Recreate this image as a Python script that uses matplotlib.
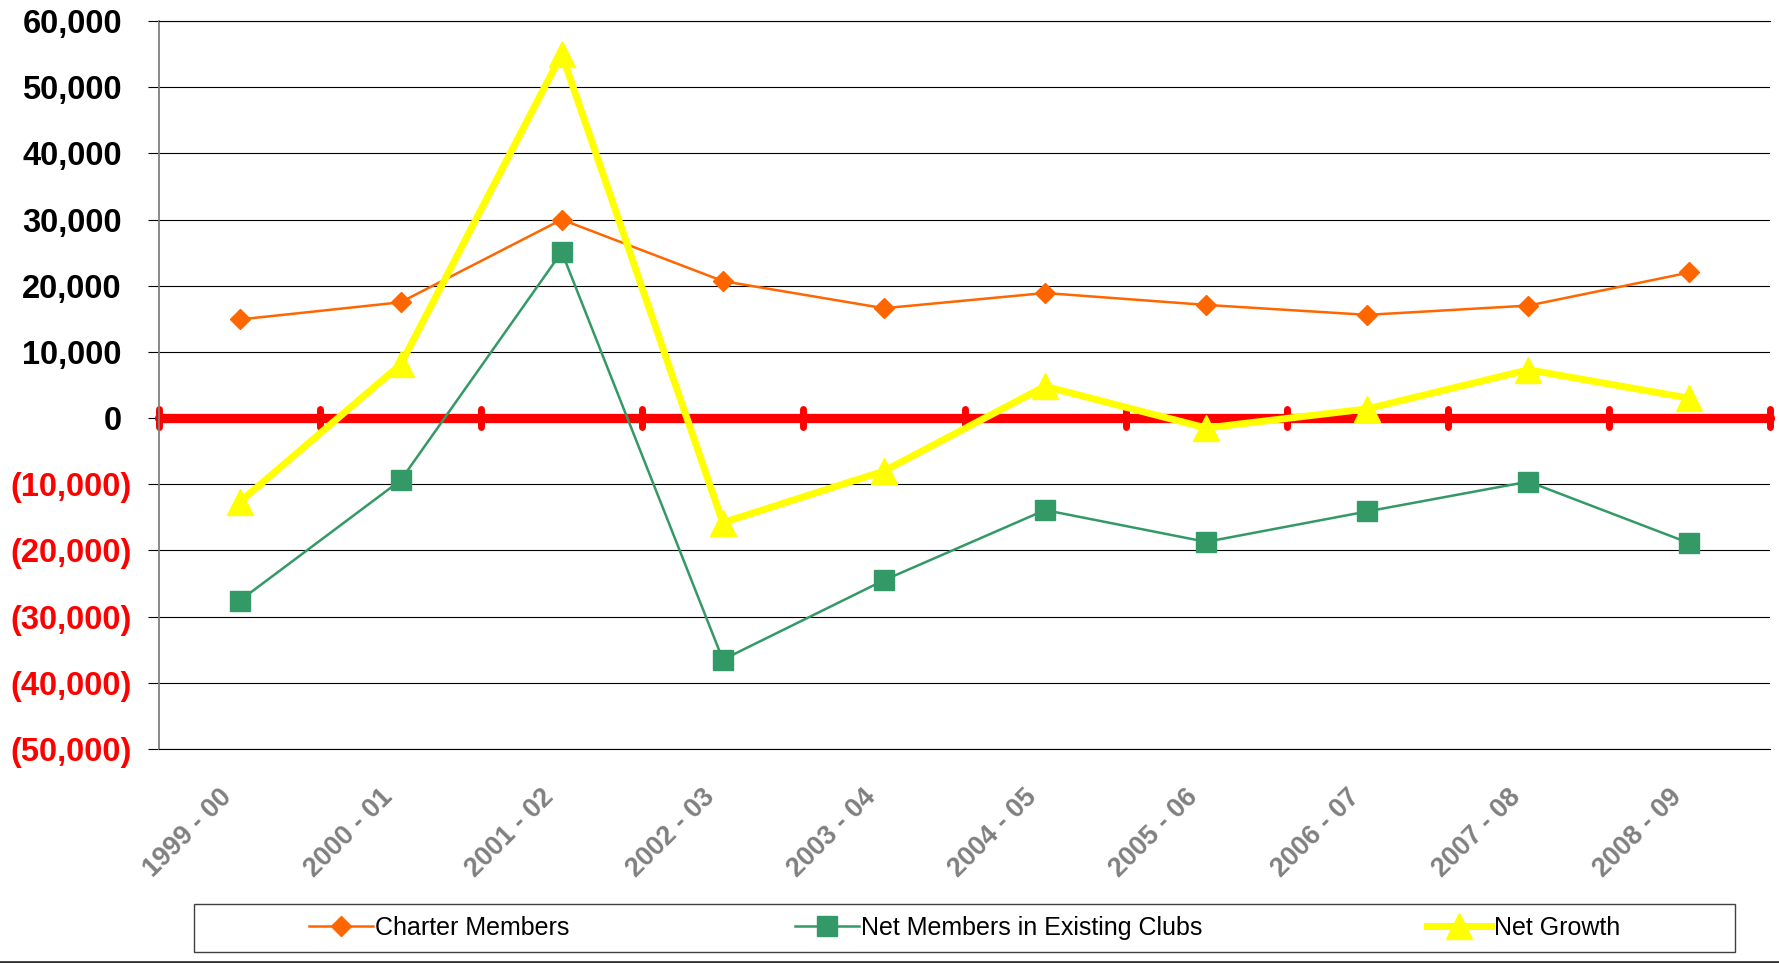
import numpy as np
import matplotlib
matplotlib.use('Agg')
import matplotlib.pyplot as plt
from matplotlib.transforms import ScaledTranslation
from matplotlib.patches import Rectangle
from matplotlib.lines import Line2D
from matplotlib.ticker import FuncFormatter

plt.rcParams['font.family'] = ['Liberation Sans', 'DejaVu Sans']

# ---------------- data ----------------
seasons = ['1999 - 00', '2000 - 01', '2001 - 02', '2002 - 03', '2003 - 04',
           '2004 - 05', '2005 - 06', '2006 - 07', '2007 - 08', '2008 - 09']
charter_members = [14900, 17500, 30000, 20700, 16600, 18900, 17100, 15600, 17000, 22000]
net_existing = [-27600, -9400, 25100, -36500, -24500, -13900, -18700, -14100, -9600, -18900]
net_growth = [-12700, 8100, 55000, -15800, -8000, 4800, -1500, 1400, 7300, 3000]
y_ticks = list(range(-50000, 60001, 10000))
series_names = ['Charter Members', 'Net Members in Existing Clubs', 'Net Growth']

W, H = 1779, 963
fig = plt.figure(figsize=(W / 100, H / 100), dpi=100)
fig.patch.set_facecolor('white')
ax = fig.add_axes([159 / W, 1 - 749 / H, (1770 - 159) / W, (749 - 21) / H])

x = np.arange(len(seasons))

# grid
ax.set_axisbelow(True)
ax.yaxis.grid(True, color='black', lw=0.8)

# zero line with red category ticks
ax.axhline(0, color='#FF0000', lw=6.7, solid_capstyle='round', zorder=2, clip_on=False)
vl = ax.vlines(np.arange(len(seasons) + 1) - 0.5, -1300, 1300, colors='#FF0000',
               lw=5, zorder=2.1, clip_on=False)
vl.set_capstyle('round')

l1, = ax.plot(x, charter_members, color='#FF6600', lw=1.8, marker='D', ms=10,
              label=series_names[0], zorder=3)
l2, = ax.plot(x, net_existing, color='#339966', lw=1.8, marker='s', ms=14,
              label=series_names[1], zorder=4)
l3, = ax.plot(x, net_growth, color='#FFFF00', lw=5, marker='^', ms=19,
              label=series_names[2], zorder=5)

ax.set_xlim(-0.5, len(seasons) - 0.5)
ax.set_ylim(y_ticks[0], y_ticks[-1])

# spines
ax.spines['right'].set_visible(False)
ax.spines['top'].set_color('black')
ax.spines['top'].set_linewidth(0.8)
ax.spines['bottom'].set_color('black')
ax.spines['bottom'].set_linewidth(0.8)
ax.spines['left'].set_color('#808080')
ax.spines['left'].set_linewidth(1.3)

# y axis
ax.set_yticks(y_ticks)
ax.yaxis.set_major_formatter(FuncFormatter(
    lambda v, p: f"{v:,.0f}" if v >= 0 else f"({-v:,.0f})"))
ax.tick_params(axis='y', length=8, width=0.8, color='black', pad=11.5, labelsize=23.5)
for lab, v in zip(ax.get_yticklabels(), y_ticks):
    lab.set_fontweight('bold')
    if v < 0:
        lab.set_color('#FF0000')
    else:
        lab.set_color('black')
        lab.set_transform(lab.get_transform() + ScaledTranslation(-0.10, 0, fig.dpi_scale_trans))

# x axis
ax.set_xticks(x)
ax.set_xticklabels(seasons, rotation=45, ha='right', va='top', rotation_mode='anchor')
ax.tick_params(axis='x', length=0, pad=25.5, labelsize=19.3, labelcolor='#808080')
for lab in ax.get_xticklabels():
    lab.set_fontweight('bold')
    lab.set_transform(lab.get_transform() + ScaledTranslation(-0.21, 0, fig.dpi_scale_trans))

# legend
fig.legend([l1, l2, l3], series_names, loc='center',
           bbox_to_anchor=(964.5 / W, 1 - 928 / H), ncol=3, frameon=False,
           fontsize=18, handlelength=2.55, handletextpad=0.1, columnspacing=9.0)
fig.add_artist(Rectangle((194 / W, 1 - 952 / H), (1735 - 194) / W, 48 / H,
                         transform=fig.transFigure, fill=False,
                         edgecolor='#404040', lw=1))
fig.add_artist(Line2D([0, 1], [1.5 / H, 1.5 / H], color='#333333', lw=2,
                      transform=fig.transFigure))

fig.savefig('out.png', dpi=100)
